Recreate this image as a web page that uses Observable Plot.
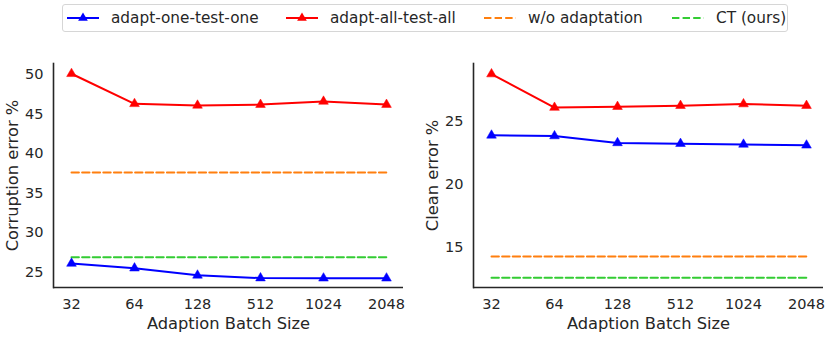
<!DOCTYPE html>
<html>
<head>
<meta charset="utf-8">
<script src="https://cdn.jsdelivr.net/npm/d3@7"></script>
<script src="https://cdn.jsdelivr.net/npm/@observablehq/plot@0.6"></script>
<style>
  html, body { margin: 0; padding: 0; background: #fff; }
  #wrap { position: relative; width: 831px; height: 337px; font-family: "DejaVu Sans", sans-serif; color: #262626; overflow: hidden; }
  .panel { position: absolute; top: 0; }
  #legend { position: absolute; left: 62px; top: 4px; width: 724px; height: 26px; border: 1px solid #d6d6d6; border-radius: 3px; box-sizing: content-box; }
  .item { position: absolute; top: 0; height: 26px; display: flex; align-items: center; font-size: 15.3px; white-space: nowrap; }
  .item svg { margin-right: 12px; }
</style>
</head>
<body>
<div id="wrap">
  <div id="legend"></div>
  <div class="panel" id="left" style="left:0px"></div>
  <div class="panel" id="right" style="left:415px"></div>
</div>
<script>
// ---- data ----
const batchSizes = ["32", "64", "128", "512", "1024", "2048"];
const seriesNames = ["adapt-one-test-one", "adapt-all-test-all", "w/o adaptation", "CT (ours)"];
const seriesColors = ["#0000ff", "#ff0000", "#ff7f0e", "#33cc33"];

const corrOneOne = [26.1, 25.5, 24.6, 24.25, 24.23, 24.23];
const corrAllAll = [50.1, 46.3, 46.1, 46.2, 46.6, 46.2];
const corrNoAdapt = 37.6;
const corrCT = 26.9;
const corrTicks = [25, 30, 35, 40, 45, 50];

const cleanOneOne = [23.89, 23.84, 23.29, 23.23, 23.17, 23.1];
const cleanAllAll = [28.76, 26.1, 26.17, 26.25, 26.38, 26.25];
const cleanNoAdapt = 14.26;
const cleanCT = 12.57;
const cleanTicks = [15, 20, 25];

const xLabel = "Adaption Batch Size";

function rows(values) { return batchSizes.map((b, i) => ({b, v: values[i]})); }
function flat(v) { return batchSizes.map(b => ({b, v})); }

function panel({oneOne, allAll, noAdapt, ct, ticks, yDomain, yLabel, width, marginLeft, marginRight}) {
  const axisColor = "#262626";
  return Plot.plot({
    width, height: 337,
    marginTop: 63, marginBottom: 50, marginLeft, marginRight,
    style: {fontFamily: "DejaVu Sans, sans-serif", fontSize: "14.5px", color: axisColor, background: "transparent"},
    x: {type: "point", domain: batchSizes, padding: 0.26, label: null, tickSize: 0, tickPadding: 11},
    y: {domain: yDomain, ticks, label: null, tickSize: 0, tickPadding: 10},
    marks: [
      Plot.ruleY([yDomain[0]], {stroke: axisColor, strokeWidth: 1.6}),
      Plot.frame({anchor: "left", stroke: axisColor, strokeWidth: 1.6}),
      Plot.text([xLabel], {text: d => d, frameAnchor: "bottom", textAnchor: "middle", lineAnchor: "middle", dy: 36, fontSize: 16.3, fill: axisColor}),
      Plot.text([yLabel], {text: d => d, frameAnchor: "left", textAnchor: "middle", lineAnchor: "middle", rotate: -90, dx: -41, fontSize: 16.3, fill: axisColor}),
      Plot.line(flat(noAdapt), {x: "b", y: "v", stroke: seriesColors[2], strokeWidth: 2, strokeDasharray: "7.4,3.2"}),
      Plot.line(flat(ct), {x: "b", y: "v", stroke: seriesColors[3], strokeWidth: 2, strokeDasharray: "7.4,3.2"}),
      Plot.line(rows(allAll), {x: "b", y: "v", stroke: seriesColors[1], strokeWidth: 2}),
      Plot.dot(rows(allAll), {x: "b", y: "v", symbol: "triangle", r: 3.6, fill: seriesColors[1], stroke: seriesColors[1], strokeWidth: 0.5}),
      Plot.line(rows(oneOne), {x: "b", y: "v", stroke: seriesColors[0], strokeWidth: 2}),
      Plot.dot(rows(oneOne), {x: "b", y: "v", symbol: "triangle", r: 3.6, fill: seriesColors[0], stroke: seriesColors[0], strokeWidth: 0.5})
    ]
  });
}

document.getElementById("left").append(panel({
  oneOne: corrOneOne, allAll: corrAllAll, noAdapt: corrNoAdapt, ct: corrCT,
  ticks: corrTicks, yDomain: [23.06, 51.4], yLabel: "Corruption error %",
  width: 415, marginLeft: 53, marginRight: 12
}));
document.getElementById("right").append(panel({
  oneOne: cleanOneOne, allAll: cleanAllAll, noAdapt: cleanNoAdapt, ct: cleanCT,
  ticks: cleanTicks, yDomain: [11.8, 29.6], yLabel: "Clean error %",
  width: 416, marginLeft: 58, marginRight: 8
}));

// ---- legend ----
const legendX = [4, 223, 421, 609];
const legend = document.getElementById("legend");
seriesNames.forEach((name, i) => {
  const div = document.createElement("div");
  div.className = "item";
  div.style.left = legendX[i] + "px";
  const dashed = i >= 2;
  const svg = d3.create("svg").attr("width", 32).attr("height", 14);
  svg.append("line").attr("x1", 0).attr("x2", 32).attr("y1", 7).attr("y2", 7)
    .attr("stroke", seriesColors[i]).attr("stroke-width", 2)
    .attr("stroke-dasharray", dashed ? "7.4,3.2" : null);
  if (!dashed) {
    svg.append("path").attr("transform", "translate(16,7)")
      .attr("d", d3.symbol(d3.symbolTriangle, Math.PI * 3.6 * 3.6)())
      .attr("fill", seriesColors[i]);
  }
  div.append(svg.node());
  const span = document.createElement("span");
  span.textContent = name;
  div.append(span);
  legend.append(div);
});
</script>
</body>
</html>
